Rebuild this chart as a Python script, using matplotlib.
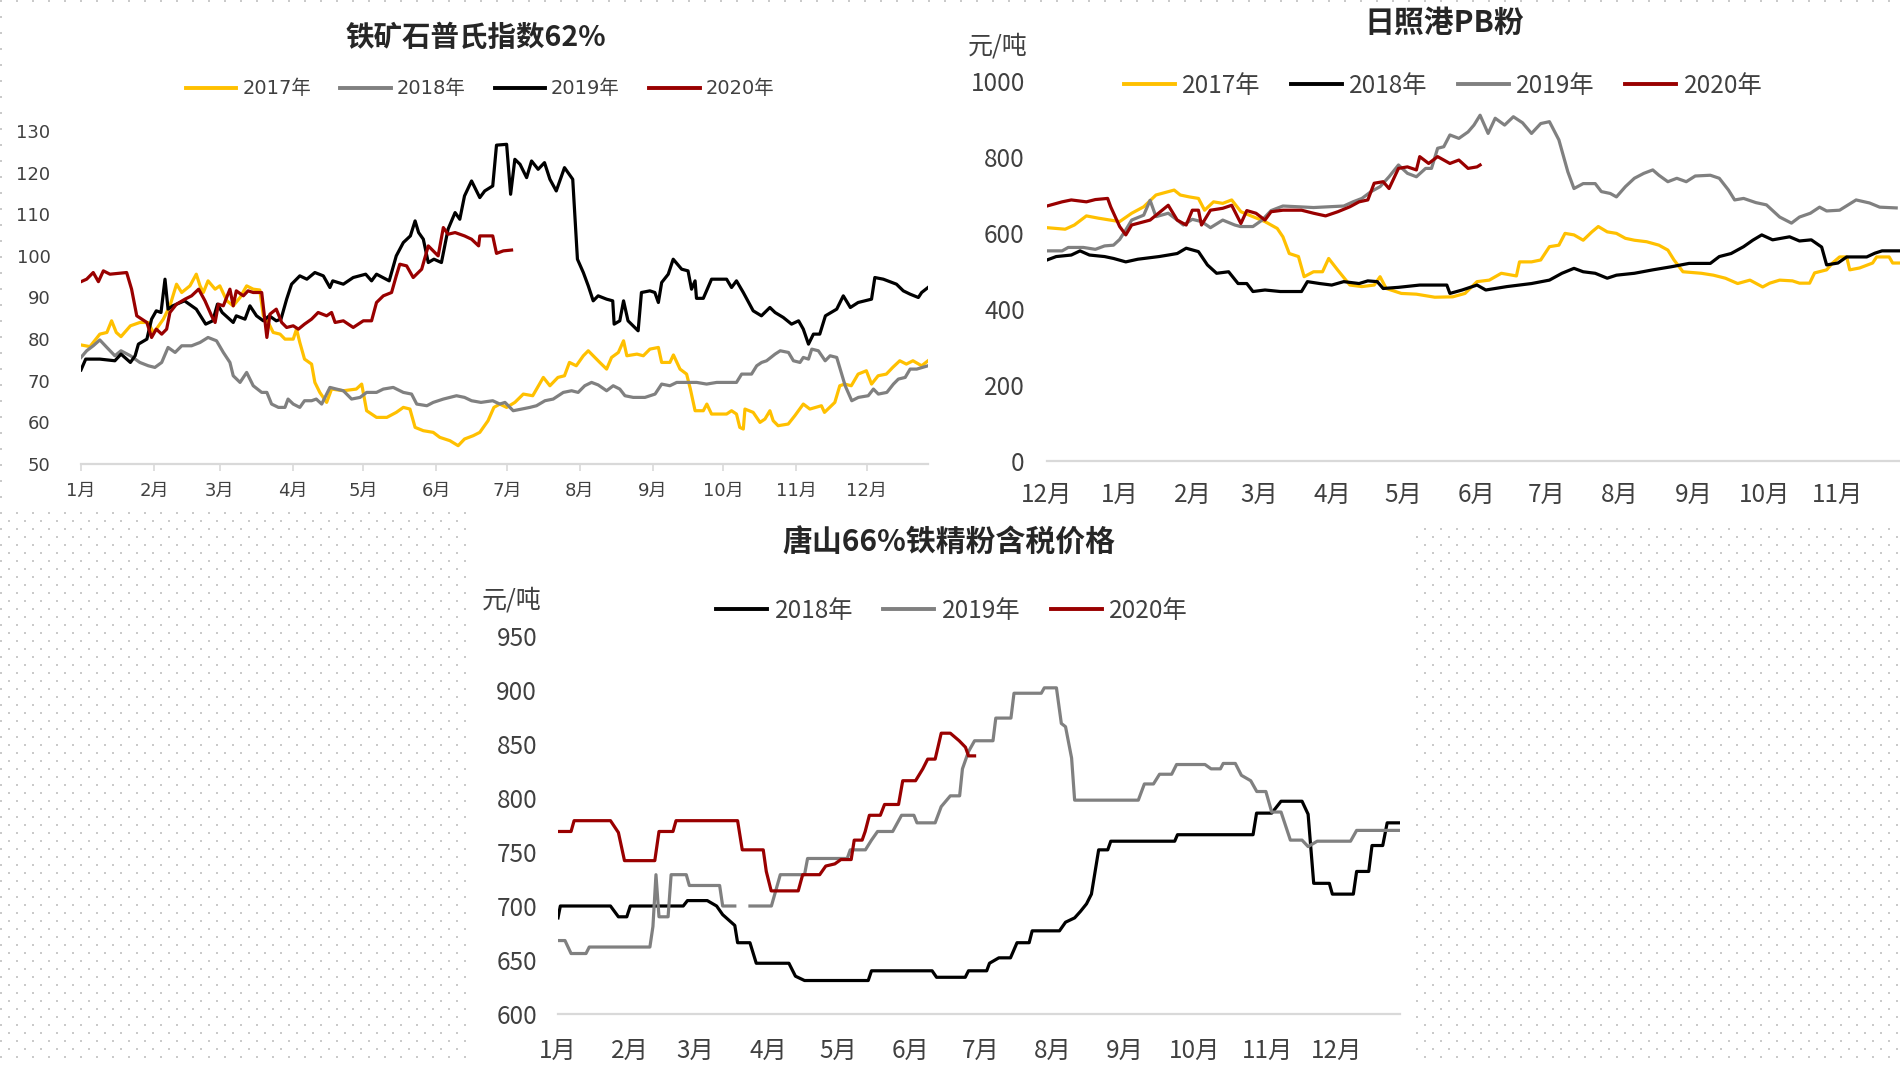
import numpy as np
import matplotlib
matplotlib.use('Agg')
import matplotlib.pyplot as plt
from matplotlib.patches import Rectangle

plt.rcParams['font.family'] = ['Noto Sans CJK SC', 'DejaVu Sans']

# ---------------- data (x = day of the year) ----------------
# chart 1: 铁矿石普氏指数62%
c1_2017 = [(0,78.6),(3.8,78.2),(8,81.2),(11,81.6),(13,84.4),(15,81.6),(17,80.6),(21,83.2),(25,84),(28.6,84),
           (30.7,81.6),(32,82.4),(35,84.8),(37.8,88),(40.6,93.2),(42.8,91.2),(46.3,92.8),(49,95.6),(50.6,92.8),
           (52,91.2),(54,94),(57,92),(59,92.8),(62,89.2),(64.7,88),(67.6,90),(70.4,92.8),(73.2,92),(76,91.8),
           (77.5,85.6),(79.6,84),(81.7,81.6),(84.6,81.2),(86.7,80),(90.2,80),(91.6,82.4),(93,79.2),(95,75.2),
           (98,74),(99.4,69.6),(101.5,67.2),(104.4,64.8),(106.5,68),(111.5,67.6),(117,68),(119.3,69.2),
           (121.4,62.8),(125.6,61.2),(130,61.2),(134,62.4),(137,63.6),(139.8,63.2),(142,58.8),(145.5,58),
           (149.7,57.6),(152.5,56.4),(156.8,55.6),(160.3,54.4),(163,56),(166.7,56.8),(169.5,57.6),(173,60.4),
           (175.5,63.6),(178,64.4),(180.9,63.6),(184.4,64.8),(188,66.8),(192,66.4),(196.5,70.8),(199.3,68.8),
           (202.7,70.8),(205.5,71.2),(207.6,74.4),(210.5,73.6),(213.5,76),(215.6,77.2),(217.7,76),(220.5,74.4),
           (223.4,72.8),(225.5,75.6),(228.4,76.8),(230.6,79.6),(232,76),(236.3,76.4),(239,76),(241.8,77.6),
           (245.4,78),(246.8,74.4),(250.3,74.4),(251.8,76.2),(254.6,72.8),(257.4,71.6),(259,68),(261,62.8),
           (264.5,62.8),(266,64.4),(268,62),(274.4,62),(276.5,62.8),(278.6,62),(280,58.8),(281.5,58.4),
           (282.2,63.2),(285.7,62.4),(288.6,60),(290.7,60.8),(292.8,62.8),(294.2,60.4),(296.3,59.2),
           (300.6,59.6),(303.4,61.6),(307,64.4),(309.8,63.2),(314.7,64),(316,62.4),(320.4,64.8),(322.5,68.8),
           (324.6,69.2),(327.4,68.8),(330.3,71.6),(333.8,72.4),(336,69.2),(338.8,71.2),(342.3,71.6),(345,73.2),
           (348,74.8),(350.8,74),(353.6,74.8),(357.3,73.6),(360,74.8)]
c1_2018 = [(0,75.6),(2.4,77.2),(5.2,78.4),(8,79.8),(11,78),(14.4,76),(17,77.2),(21,76),(25,74.4),(28.6,73.6),
           (31.4,73.2),(34.3,74.4),(37,78),(40,76.8),(42.8,78.4),(47,78.4),(50.6,79.2),(54,80.4),(57.6,79.6),
           (60.5,76.8),(63.3,74.4),(64.7,71.2),(67.6,69.6),(70.4,72),(73.2,68.8),(76.8,67.2),(79,67.2),(81,64.4),
           (83.9,63.6),(86.7,63.6),(88,65.6),(90.2,64.4),(93,63.6),(95,65.2),(98,65.2),(100,65.6),(102.3,64.4),
           (105.8,68.4),(108.6,68),(111.5,67.6),(115,65.6),(118.6,66),(121.4,67.2),(125.6,67.2),(128.5,68),
           (132.7,68.4),(137,67.2),(140.5,66.8),(142.7,64.4),(147,64),(149.7,64.8),(154,65.6),(159.6,66.4),
           (163,66),(166,65.2),(170,64.8),(175,65.2),(178,64.4),(180.2,64.8),(183.7,62.8),(187.3,63.2),
           (190.8,63.6),(193.6,64),(197.2,65.2),(200.7,65.6),(205,67.2),(208.5,67.6),(211.3,67.2),(214.1,68.8),
           (217,69.6),(219.8,69),(223.4,67.6),(226.2,68.8),(229,68),(231.2,66.4),(234.7,66),(239.7,66),
           (244,66.8),(246.8,69.2),(250.3,68.8),(253.2,69.6),(257.4,69.6),(261.7,69.6),(265.9,69.2),(270.2,69.6),
           (278.6,69.6),(280.8,71.6),(285,71.6),(287.2,73.6),(289.3,74.4),(291.4,74.8),(295,76.4),(297.2,77.2),
           (300.7,76.8),(302.8,74.8),(305.6,74.4),(307,75.6),(309.2,75.2),(310.6,77.6),(313.4,77.2),(316.3,74.8),
           (318.4,76),(321.2,75.6),(324.8,68.8),(327.6,65.2),(330.4,66),(334.6,66.4),(336.8,68),(338.9,66.8),
           (342.5,67.2),(345.3,69.2),(347.4,70.4),(350.3,70.8),(352.4,72.8),(355.2,72.8),(360,73.6)]
c1_2019 = [(0,72.6),(2,75.2),(8,75.2),(14.4,74.8),(17,76.4),(21,74.4),(23,76),(24.4,78.8),(28,80),(30,84.8),
           (32,86.8),(34,86.4),(35.7,94.4),(37,87.2),(39,88),(44,89.2),(49,87.2),(53,83.6),(56,84.4),(58,88.4),
           (60,86.4),(64.7,84),(66,85.6),(69.7,84.8),(71.8,88),(74.6,85.6),(77.5,84.4),(80,85.6),(83,84.4),
           (85,84.8),(87.4,89.6),(89.5,93.2),(93,95.2),(96,94.4),(99.4,96),(103,95.2),(105.8,92.4),(107,94),
           (111.5,93.2),(115.7,94.8),(121,95.6),(123.5,94),(125.6,95.6),(131,94),(134,100),(137,103.2),
           (140,104.8),(142,108.4),(143.5,105.6),(145.5,104),(147.6,98.4),(150,99.2),(153.2,98.4),(156,106.4),
           (159,110.4),(161,108.8),(163,114.4),(166,118),(169.5,114),(171.6,115.6),(175,116.8),(176.6,126.6),
           (180.9,126.8),(182.6,114.8),(184.4,123.2),(186.6,122),(189.4,118.8),(191.5,122.8),(194.3,120.8),
           (197,122.4),(199.3,118.4),(202,115.6),(205.5,121.2),(209,118.4),(211,99.2),(213.5,96),(215.6,92.8),
           (217.7,89.2),(219.8,90.4),(223.4,89.6),(226,89.2),(226.6,83.6),(229,84.4),(230.6,89.2),(232.5,84.4),
           (236.8,82),(238.2,91.2),(241.8,91.6),(243.9,91.2),(245.4,88.8),(246.8,93.6),(249.6,95.6),(251.7,99.2),
           (255.3,96.8),(258,96.4),(259.5,92),(261,94),(261.6,89.8),(264.5,89.8),(268,94.4),(274.4,94.4),
           (276.5,92.4),(278.6,94),(281.5,91.2),(285.7,86.8),(289.2,85.6),(292.8,87.6),(295,86.4),(298.5,85.2),
           (302,83.6),(305,84.4),(307,82.4),(309.2,78.8),(311.3,81.2),(314,81.2),(316.4,85.6),(321.2,87.2),
           (324,90.4),(327,87.6),(330.3,88.8),(336,89.6),(337.4,94.8),(341,94.4),(346.6,93.2),(349.5,91.6),
           (352.4,90.8),(355.9,90),(357.3,91.2),(360,92.4)]
c1_2020 = [(0,93.8),(2.4,94.4),(5.2,96),(7.4,93.8),(9.5,96.4),(12.3,95.6),(19.4,96),(21.5,92),(23.7,85.6),
           (28,84),(30,80.4),(32,82.4),(34.3,81.2),(36.4,82.4),(37.8,86.4),(40.6,88.4),(44.2,89.6),(47,90.4),
           (50,92),(52.7,89.2),(55.5,85.6),(57,84),(58.4,88.4),(60.5,88),(63.3,92),(64.7,88),(66,91.6),(69,90.4),
           (71,91.6),(73.2,91.2),(76.8,91.2),(79,80.4),(80.3,86),(83,87.2),(85.3,84),(87.4,82.8),(90.2,83.2),
           (92.4,82.4),(95,83.6),(98,84.8),(100.8,86.4),(104.4,85.6),(106.5,86.4),(108,84),(111.5,84.4),
           (115.7,82.8),(120,84.4),(123.5,84.4),(125.6,88.8),(128.5,90.4),(132,91.2),(134,95.2),(135.5,98),
           (138.4,97.6),(141.2,94.8),(144.8,96.8),(147.6,102.4),(149.7,101.2),(151.8,100),(154,106.8),(156,105.2),
           (159,105.6),(163,104.8),(166,104),(169,102.4),(169.5,104.8),(175,104.8),(176.6,100.6),(179.5,101.2),
           (183,101.4)]

# chart 2: 日照港PB粉 (x = days from 1 Dec)
c2_2017 = [(0,614),(7.7,610),(11.6,621),(16.7,645),(21.8,639),(30.8,630),(35.9,652),(41,669),(46.2,700),
           (53.9,713),(56.5,700),(60.3,695),(64.2,691),(66.8,660),(70.6,682),(74.5,678),(78.3,687),(82.2,656),
           (87.3,643),(92.4,630),(97.6,612),(100,590),(102.7,546),(106.6,538),(109,485),(113,498),(116.8,498),
           (119.4,533),(123.3,502),(128.4,463),(133.5,459),(138.7,463),(141.2,485),(143.8,454),(150.2,441),
           (156.6,439),(164.4,431),(172,432),(177.2,441),(182.3,472),(187.5,476),(192.6,494),(199,487),
           (200.3,524),(205.4,524),(209.3,529),(213,564),(217,568),(219.6,599),(223.4,595),(227.3,581),(231,603),
           (233.7,617),(237.5,603),(241.4,599),(245.2,586),(249,581),(254.2,577),(259.4,568),(263.2,555),
           (265.8,529),(269.6,498),(277.4,494),(282.5,489),(287.6,481),(292.8,467),(298,476),(303.4,458),
           (306.4,468),(310.6,476),(316,474),(319,468),(323.3,468),(325.4,495),(330.5,503),(333,521),(336,537),
           (339,537),(340.3,503),(344.5,508),(350,521),(351.7,537),(357,537),(358.5,521),(361,521)]
c2_2018 = [(0,529),(3.9,538),(10.3,542),(14,553),(18,542),(24.4,538),(28.2,533),(33.4,524),(38.5,531),
           (47.5,538),(51.4,542),(55.2,546),(59,560),(64.2,551),(68,516),(71.9,494),(77,498),(81,467),(84.7,467),
           (87.3,446),(92.4,450),(98.9,446),(107.9,446),(110.4,472),(115.6,467),(120.7,463),(125.8,472),
           (132.3,467),(136,474),(140,472),(142.5,454),(149,457),(158,463),(164.4,463),(169.5,463),(170.8,441),
           (176,450),(182.3,463),(186,450),(195,459),(205.4,467),(213,476),(218.3,494),(223.4,507),(227.3,498),
           (232.4,494),(237.5,481),(241.4,489),(249,494),(256.8,503),(264.5,511),(272.2,520),(281.2,520),
           (285,538),(290,546),(295.3,564),(299.2,581),(303,595),(307.6,582),(314.8,590),(319,579),(324,582),
           (328.4,563),(330.5,516),(335.3,521),(339,537),(347.5,537),(351,547),(354,553),(361,553)]
c2_2019 = [(0,553),(6.4,553),(9,562),(15.4,562),(20.5,557),(24.4,566),(28.2,568),(30.8,583),(33.4,608),
           (35.9,634),(41,647),(43.7,686),(46.2,643),(51.4,652),(55.2,634),(57.8,621),(61.6,636),(65.5,630),
           (69.3,614),(74.5,634),(79.6,621),(82,617),(87.3,617),(91.2,634),(95,659),(100,671),(106.6,669),
           (113,667),(119.4,669),(125.8,671),(129.7,682),(133.5,691),(137.4,709),(141.2,722),(145,748),(149,779),
           (152.8,757),(156.6,748),(160.5,770),(163,770),(165.6,823),(168.2,827),(170.8,858),(174.6,849),
           (178.5,866),(181,884),(183.6,910),(187,862),(190,902),(194,884),(197.7,906),(201.6,890),(205.4,862),
           (209.3,888),(213,893),(217,845),(220.8,761),(223.4,717),(227.3,730),(232.4,730),(235,709),(238.8,704),
           (241.4,695),(245.2,722),(249,744),(253,757),(256.8,766),(259.4,752),(263.2,735),(267,744),(271,735),
           (274.8,750),(281.2,752),(285,744),(288.9,713),(291.5,687),(295.3,691),(300.5,680),(305,674),
           (310.6,642),(315.6,626),(319,642),(323.6,652),(327.5,668),(330.5,658),(336,660),(343,687),(348.7,679),
           (353,668),(360,666)]
c2_2020 = [(0,671),(6.4,682),(10.3,687),(16.7,682),(20.5,688),(25.7,691),(27,669),(30.8,617),(33.4,595),
           (35.9,621),(43.7,634),(51.4,673),(55.2,634),(59,621),(61.6,660),(64.2,660),(65.5,621),(69.3,660),
           (74.5,665),(78.3,673),(82.2,625),(84.7,659),(88.6,652),(92.4,634),(95,656),(100,660),(107.9,660),
           (113,652),(118.1,645),(123.3,656),(128.4,669),(132.3,682),(136,687),(138.7,731),(142.5,735),(145,717),
           (149,770),(152.8,774),(156.6,766),(158,801),(161.8,783),(165.6,801),(170.8,783),(174.6,792),
           (178.5,770),(182.3,774),(183.6,779)]

# chart 3: 唐山66%铁精粉含税价格
c3_2018 = [(0,689),(1,700),(22.5,700),(25.9,690),(29.5,690),(31,700),(53.7,700),(55.5,705),(64,705),(68,700),
           (70.6,692),(75.8,682),(77,666),(82.3,666),(85,647),(99,647),(101.8,635),(105.7,631),(133,631),
           (134.4,640),(160.4,640),(162.3,634),(174.6,634),(176,640),(183.8,640),(185,647),(189,652),(194,652),
           (196.8,666),(202,666),(203.3,677),(215,677),(217.6,685),(221.5,689),(224,695),(226.6,702),(228.7,711),
           (231.8,752),(235.7,752),(237,760),(264.4,760),(265.6,766),(298,766),(299.5,786),(306,786),(310,797),
           (319,797),(321.6,785),(324,721),(330.7,721),(332,711),(341,711),(342.4,732),(347.6,732),(349,756),
           (353.6,756),(355.5,777),(360.7,777)]
c3_2019 = [(0,668),(3,668),(5.6,656),(12,656),(13.4,662),(39.4,662),(40.7,681),(42,729),(43.3,690),(47.2,690),
           (48.5,729),(55,729),(56.3,719),(69.3,719),(70.6,700),(75.8,700),(79,np.nan),(82.3,700),(91.5,700),
           (95.3,729),(105.7,729),(107,744),(124,744),(125.3,752),(131.8,752),(134.4,761),(137,769),(143.5,769),
           (147.3,784),(152.6,784),(153.9,777),(161.7,777),(164.3,792),(168.2,802),(172.2,802),(173.4,827),
           (176,843),(178.6,853),(186.5,853),(187.7,874),(194.2,874),(195.5,897),(207.2,897),(208.5,902),
           (213.7,902),(215.8,869),(217.6,866),(220.2,837),(221.5,798),(248.8,798),(251.4,813),(255.3,813),
           (257.9,822),(263.1,822),(265.2,831),(277.4,831),(280,827),(284,827),(285.2,832),(290.4,832),(293,821),
           (297,816),(299.6,806),(303.5,806),(306,787),(310,787),(314,761),(319,761),(321.6,755),(325.5,760),
           (339.8,760),(342.4,770),(360.7,770)]
c3_2020 = [(0,769),(5.6,769),(6.9,779),(22.5,779),(25.9,768),(28.5,742),(41.5,742),(43.3,769),(49.3,769),
           (50.6,779),(77,779),(79,752),(88,752),(89.3,732),(91.4,714),(103,714),(104.9,729),(112.2,729),
           (114.8,737),(118.7,739),(121.3,743),(125.7,743),(127,761),(130.4,761),(131.7,769),(133.5,784),
           (138.2,784),(140,794),(146,794),(147.8,816),(153.3,816),(156.4,827),(158.5,836),(161.7,836),
           (164.3,860),(168.2,860),(172,853),(174.7,847),(176,839),(178.6,839)]

jan_ticks = [0, 31, 59, 90, 120, 151, 181, 212, 243, 273, 304, 334]
jan_labels = [f'{m}月' for m in range(1, 13)]
dec_ticks = [0, 31, 62, 90, 121, 151, 182, 212, 243, 274, 304, 335]
dec_labels = ['12月'] + [f'{m}月' for m in range(1, 12)]

YELLOW, GRAY, BLACK, RED = '#FFC000', '#808080', '#000000', '#990000'
TXT = '#404040'
WIDE = ['DejaVu Sans', 'Noto Sans CJK SC']   # chart 1 uses a wider face

W, H = 1900, 1065
fig = plt.figure(figsize=(W / 100, H / 100), dpi=100)


def box(l, t, r, b):
    return [l / W, 1 - b / H, (r - l) / W, (b - t) / H]


# dotted page background with white panels
bg = fig.add_axes([0, 0, 1, 1])
bg.set_xlim(0, W)
bg.set_ylim(H, 0)
bg.axis('off')
gy = np.arange(1, H, 8)
pts = [(x + (8 if i % 2 else 0), y) for i, y in enumerate(gy) for x in np.arange(1, W, 16)]
px, py = np.array(pts).T
bg.scatter(px, py, s=1.1, c='#CACACA', marker='s', linewidths=0)
for (l, t, r, b) in [(6, 6, 950, 508), (950, 6, W, 524), (472, 505, 1410, H)]:
    bg.add_patch(Rectangle((l, t), r - l, b - t, facecolor='white', edgecolor='none'))


def style(ax, xlim, ylim, yticks, xticks, xlabels, fs, ypad, xpad, ticklen, family=None):
    ax.set_xlim(*xlim)
    ax.set_ylim(*ylim)
    ax.patch.set_alpha(0)
    for s in ['top', 'right', 'left']:
        ax.spines[s].set_visible(False)
    ax.spines['bottom'].set_color('#D9D9D9')
    ax.spines['bottom'].set_linewidth(1.6)
    ax.set_xticks(xticks)
    ax.set_xticklabels(xlabels)
    ax.set_yticks(yticks)
    ax.tick_params(axis='y', length=0, pad=ypad, labelsize=fs, labelcolor=TXT)
    ax.tick_params(axis='x', length=ticklen, width=1.2, color='#D9D9D9', pad=xpad,
                   labelsize=fs, labelcolor=TXT)
    if family:
        for lab in ax.get_xticklabels() + ax.get_yticklabels():
            lab.set_family(family)


def draw(ax, series, lw=2.3):
    for data, color, label in series:
        d, v = np.array(data, dtype=float).T
        ax.plot(d, v, color=color, lw=lw, label=label, solid_joinstyle='round')


def legend(ax, cx, cy, n, fs, hl, cs, family=None):
    prop = {'size': fs}
    if family:
        prop['family'] = family
    leg = ax.legend(loc='center', bbox_to_anchor=(cx / W, 1 - cy / H), bbox_transform=fig.transFigure,
                    ncol=n, frameon=False, prop=prop, handlelength=hl, handletextpad=0.3,
                    columnspacing=cs, borderaxespad=0)
    for t in leg.get_texts():
        t.set_color(TXT)
    for h in leg.get_lines():
        h.set_linewidth(2.8)


# ---- chart 1 ----
ax1 = fig.add_axes(box(81, 131, 928, 464))
draw(ax1, [(c1_2017, YELLOW, '2017年'), (c1_2018, GRAY, '2018年'),
           (c1_2019, BLACK, '2019年'), (c1_2020, RED, '2020年')])
style(ax1, (0, 360), (50, 130), range(50, 131, 10), jan_ticks, jan_labels, 13, 22, 8, 5, WIDE)
legend(ax1, 480, 89, 4, 14, 2.6, 1.5, WIDE)
fig.text(476 / W, 1 - 38 / H, '铁矿石普氏指数62%', ha='center', va='center',
         fontsize=20.5, fontweight='bold', color='#262626')

# ---- chart 2 ----
ax2 = fig.add_axes(box(1047, 81, 1908, 461))
draw(ax2, [(c2_2017, YELLOW, '2017年'), (c2_2018, BLACK, '2018年'),
           (c2_2019, GRAY, '2019年'), (c2_2020, RED, '2020年')])
style(ax2, (0, 365), (0, 1000), range(0, 1001, 200), dec_ticks, dec_labels, 17.5, 16, 15, 0)
legend(ax2, 1443, 86, 4, 17.5, 2.1, 1.25)
fig.text(1444 / W, 1 - 23 / H, '日照港PB粉', ha='center', va='center',
         fontsize=21.5, fontweight='bold', color='#262626')
fig.text(968 / W, 1 - 46 / H, '元/吨', ha='left', va='center', fontsize=18, color=TXT)

# ---- chart 3 ----
ax3 = fig.add_axes(box(558, 636, 1400, 1014))
draw(ax3, [(c3_2018, BLACK, '2018年'), (c3_2019, GRAY, '2019年'), (c3_2020, RED, '2020年')])
style(ax3, (0, 361), (600, 950), range(600, 951, 50), jan_ticks, jan_labels, 17.5, 15, 17, 0)
legend(ax3, 952, 611, 3, 17.5, 2.1, 1.25)
fig.text(949 / W, 1 - 543 / H, '唐山66%铁精粉含税价格', ha='center', va='center',
         fontsize=21.5, fontweight='bold', color='#262626')
fig.text(482 / W, 1 - 600 / H, '元/吨', ha='left', va='center', fontsize=18, color=TXT)

fig.savefig('out.png', dpi=100, facecolor='white')
